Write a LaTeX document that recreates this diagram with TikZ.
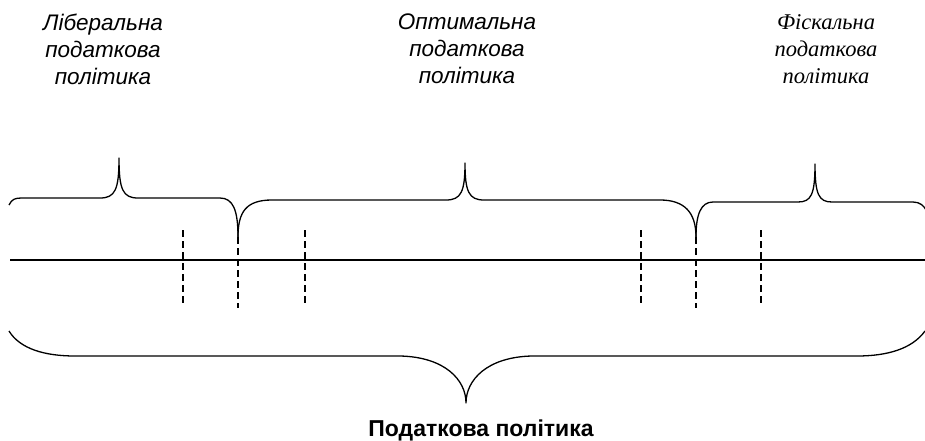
\documentclass[tikz,border=0pt]{standalone}
\usepackage{fontspec}
\setmainfont{Liberation Sans}
\newfontfamily\timesit{Liberation Serif}[ItalicFont=* Italic]
\begin{document}
\begin{tikzpicture}[x=1pt,y=-1pt,line join=round,
	brace/.style={line width=1.3pt},
	kind/.style={align=center,inner sep=0pt,font=\fontsize{22.5}{27}\selectfont\itshape},
	cut/.style={line width=1.1pt,dash pattern=on 7pt off 4pt}]
	\useasboundingbox (0,0) rectangle (925,441);
	\path (10,260) coordinate (L) (925,260) coordinate (R) (238,237) coordinate (P) (696,237) coordinate (Q) (466,403) coordinate (T);
	% axis
	\draw[line width=1.1pt] (L) -- (R);
	% upper braces
	\draw[brace] (9,205) .. controls (12,199) and (15,198) .. (22,198) -- (100,198) .. controls (115,198) and (119,190) .. (119,158) .. controls (119,190) and (123,198) .. (138,198) -- (220,198) .. controls (233,198) and (238,210) .. (P);
	\draw[brace] (P) .. controls (238,212) and (246,200) .. (272,200) -- (446,200) .. controls (461,200) and (465,192) .. (465,163) .. controls (465,192) and (469,200) .. (484,200) -- (660,200) .. controls (684,200) and (696,212) .. (Q);
	\draw[brace] (Q) .. controls (696,214) and (701,202) .. (713,202) -- (798,202) .. controls (811,202) and (815,195) .. (815,164) .. controls (815,195) and (819,202) .. (832,202) -- (913,202) .. controls (920,202) and (924,206) .. (926,210);
	% lower brace
	\draw[brace] (9,331) .. controls (20,349) and (45,356) .. (75,356) -- (400,356) .. controls (445,357) and (466,380) .. (T) .. controls (466,380) and (487,357) .. (532,356) -- (857,356) .. controls (887,356) and (912,349) .. (925,331);
	\foreach \x/\a/\b in {183/230/303,305/230/303,641/230/303,761/230/303,238/237/308,696/237/308}\draw[cut] (\x,\a) -- (\x,\b);
	\node[kind] (lib) at (103,49) {Ліберальна\\податкова\\політика};
	\node[kind] (opt) at (467,49) {Оптимальна\\податкова\\політика};
	\node[kind,font=\fontsize{22.5}{27}\selectfont\timesit\itshape] (fisc) at (826,49) {Фіскальна\\податкова\\політика};
	\node[anchor=base,font=\fontsize{23}{26}\selectfont\bfseries] (total) at (481,436) {Податкова політика};
\end{tikzpicture}
\end{document}
